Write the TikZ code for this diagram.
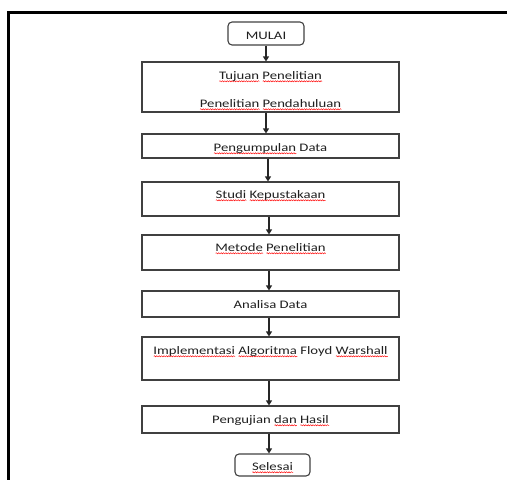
\documentclass[tikz,border=0pt]{standalone}
\usepackage{fontspec}
\usetikzlibrary{arrows.meta,decorations.pathmorphing}
\newfontfamily\boxfont[FakeStretch=1.28]{Carlito}
\newsavebox\sqbox
\newlength\sqw
\newcommand\sq[1]{\sbox\sqbox{#1}\setlength\sqw{\wd\sqbox}\rlap{\tikz[baseline=0pt,x=1pt,y=1pt]\draw[red,line width=0.45pt,decorate,decoration={snake,amplitude=0.6pt,segment length=2.4pt}] (0,-2.3) -- (\sqw,-2.3);}\usebox\sqbox}
\begin{document}
\begin{tikzpicture}[x=1pt,y=-1pt,
  box/.style={draw=black!75,line width=1.1pt,minimum width=257pt,inner sep=0pt},
  term/.style={box,rounded corners=4pt},
  txt/.style={anchor=base,inner sep=0pt,font=\boxfont\fontsize{11.5}{13}\selectfont,text=black!88},
  arr/.style={line width=1.1pt,draw=black!85,-{Triangle[length=5pt,width=6pt]}}]
\useasboundingbox (0,0) rectangle (507,480);
% frame
\draw[line width=3pt,line cap=butt] (8.5,480) -- (8.5,12) -- (507,12);
% boxes
\node[term,minimum width=76pt,minimum height=23pt] (m) at (266,33.5) {};
\node[box,minimum height=50pt] (b1) at (270.5,87) {};
\node[box,minimum height=24pt] (b2) at (270.5,146) {};
\node[box,minimum height=34pt] (b3) at (270.5,199) {};
\node[box,minimum height=35pt] (b4) at (270.5,252.5) {};
\node[box,minimum height=26pt] (b5) at (270.5,304) {};
\node[box,minimum height=43pt] (b6) at (270.5,358.5) {};
\node[box,minimum height=27pt] (b7) at (270.5,419.5) {};
\node[term,minimum width=75pt,minimum height=22pt] (s) at (272.5,465) {};
% texts
\node[txt] (tm) at (266,39) {MULAI};
\node[txt] (t1a) at (270.5,79) {\sq{Tujuan} \sq{Penelitian}};
\node[txt] (t1b) at (270.5,107) {\sq{Penelitian} \sq{Pendahuluan}};
\node[txt] (t2) at (270.5,151) {\sq{Pengumpulan} Data};
\node[txt] (t3) at (270.5,198) {\sq{Studi} \sq{Kepustakaan}};
\node[txt] (t4) at (270.5,251) {\sq{Metode} \sq{Penelitian}};
\node[txt] (t5) at (270.5,308) {Analisa Data};
\node[txt] (t6) at (270.5,354) {\sq{Implementasi} \sq{Algoritma} Floyd \sq{Warshall}};
\node[txt] (t7) at (270.5,423) {Pengujian \sq{dan} \sq{Hasil}};
\node[txt] (ts) at (272.5,470) {\sq{Selesai}};
% arrows
\draw[arr] (m.south) -- (m.south |- b1.north);
\draw[arr] (m.south |- b1.south) -- (m.south |- b2.north);
\coordinate (c) at (268,0);
\draw[arr] (c |- b2.south) -- (c |- b3.north);
\coordinate (d) at (269,0);
\draw[arr] (d |- b3.south) -- (d |- b4.north);
\draw[arr] (d |- b4.south) -- (d |- b5.north);
\draw[arr] (d |- b5.south) -- (d |- b6.north);
\draw[arr] (d |- b6.south) -- (d |- b7.north);
\draw[arr] (d |- b7.south) -- (d |- s.north);
\end{tikzpicture}
\end{document}
